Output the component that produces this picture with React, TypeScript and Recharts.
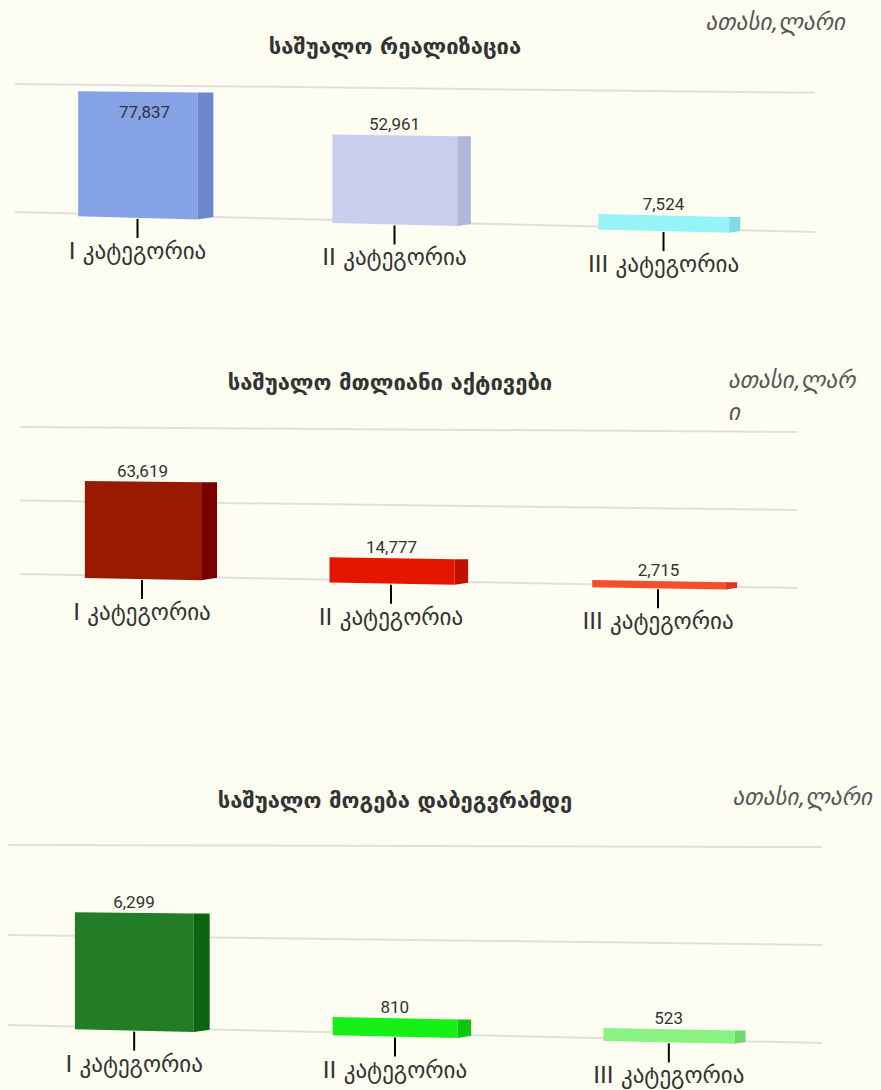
import React from "react";
import { Bar, BarChart, CartesianGrid, Cell, XAxis, YAxis } from "recharts";

const categories = ["I კატეგორია", "II კატეგორია", "III კატეგორია"];

const realizationValues = [77837, 52961, 7524];
const assetValues = [63619, 14777, 2715];
const profitValues = [6299, 810, 523];

const realizationTicks = [0, 82000];
const assetTicks = [0, 50000, 100000];
const profitTicks = [0, 5000, 10000];

const unitLabel = "ათასი,ლარი";

type Panel = {
  title: string;
  values: number[];
  ticks: number[];
  front: string[];
  side: string[];
  top: number;
  height: number;
  titleX: number;
  titleY: number;
  unitRight: number;
  unitY: number;
  unitWrap: boolean;
  plotTop: number;
  plotBottom: number;
  bandLeft: number;
  bandWidth: number;
  gridLeft: number;
  gridRight: number;
  slope: number;
  horizon: number;
  bow: number;
};

const panels: Panel[] = [
  {
    title: "საშუალო რეალიზაცია",
    values: realizationValues,
    ticks: realizationTicks,
    front: ["#86a2e6", "#c8cfee", "#96f4f6"],
    side: ["#6b88cf", "#b0b6d8", "#7fdbdd"],
    top: 0,
    height: 300,
    titleX: 395,
    titleY: 47,
    unitRight: 845,
    unitY: 22,
    unitWrap: false,
    plotTop: 84,
    plotBottom: 212,
    bandLeft: 0,
    bandWidth: 789,
    gridLeft: 15,
    gridRight: 815,
    slope: 0.025,
    horizon: -16,
    bow: 6,
  },
  {
    title: "საშუალო მთლიანი აქტივები",
    values: assetValues,
    ticks: assetTicks,
    front: ["#9a1a00", "#e41600", "#f44e2e"],
    side: ["#780000", "#c01000", "#d8381e"],
    top: 340,
    height: 320,
    titleX: 390,
    titleY: 43,
    unitRight: 862,
    unitY: 40,
    unitWrap: true,
    plotTop: 87,
    plotBottom: 234,
    bandLeft: 4,
    bandWidth: 774,
    gridLeft: 20,
    gridRight: 797,
    slope: 0.018,
    horizon: 6,
    bow: 9,
  },
  {
    title: "საშუალო მოგება დაბეგვრამდე",
    values: profitValues,
    ticks: profitTicks,
    front: ["#237c26", "#16f016", "#8af282"],
    side: ["#0a6410", "#10c410", "#6fd86a"],
    top: 760,
    height: 330,
    titleX: 395,
    titleY: 41,
    unitRight: 872,
    unitY: 37,
    unitWrap: false,
    plotTop: 85,
    plotBottom: 265,
    bandLeft: -6,
    bandWidth: 802,
    gridLeft: 8,
    gridRight: 822,
    slope: 0.022,
    horizon: 62,
    bow: 6.5,
  },
];

const LIFT = 3;
const AXIS_H = 30;

// fake perspective: tilt rows toward the right, bow the outer columns
const tiltY = (p: Panel, x: number, y: number) =>
  y + ((x - p.gridLeft) * p.slope * (y - p.horizon)) / (p.plotBottom - p.horizon);

const project = (p: Panel, x: number, y: number): [number, number] => {
  const mid = p.bandLeft + p.bandWidth / 2;
  const step = p.bandWidth / 3;
  return [x + p.bow * ((x - mid) / step) ** 2, tiltY(p, x, y)];
};

const fmt = (v: number) => v.toLocaleString("en-US");

const PanelChart = ({ p }: { p: Panel }) => {
  const data = categories.map((name, i) => ({ name, value: p.values[i] }));

  const renderBar = (props: any) => {
    const { x, y, width, height, index, payload } = props;
    const yb = y + height;
    const [ax, ay] = project(p, x, y);
    const [bx, by] = project(p, x + width, y);
    const [cx, cy0] = project(p, x + width, yb);
    const [dx, dy0] = project(p, x, yb);
    const cy = cy0 + LIFT;
    const dy = dy0 + LIFT;
    const depth = 17.5 - 0.009 * (bx - p.gridLeft);
    const front = `${ax},${ay} ${bx},${by} ${cx},${cy} ${dx},${dy}`;
    const side = `${bx},${by} ${bx + depth},${by} ${cx + depth},${cy - 0.15 * depth} ${cx},${cy}`;
    const [lx, ly] = project(p, x + width / 2, y);
    const inside = y - 20 < p.plotTop;
    return (
      <g>
        <polygon points={front} fill={p.front[index]} />
        <polygon points={side} fill={p.side[index]} />
        <text
          x={inside ? lx + 7 : lx}
          y={inside ? ly + 26 : ly - 5}
          textAnchor="middle"
          fontFamily="Roboto, sans-serif"
          fontSize={17}
          fill="#333"
        >
          {fmt(payload.value)}
        </text>
      </g>
    );
  };

  const renderTick = (props: any) => {
    const { x, payload } = props;
    const [tx, ty0] = project(p, x, p.plotBottom);
    const ty = ty0 + LIFT + 1;
    return (
      <g>
        <line x1={tx} y1={ty} x2={tx} y2={ty + 19} stroke="#000" strokeWidth={2} />
        <text
          x={tx}
          y={ty + 40}
          textAnchor="middle"
          fontFamily="'DejaVu Sans', sans-serif"
          fontSize={23}
          fill="#333"
        >
          {payload.value}
        </text>
      </g>
    );
  };

  const renderGrid = (props: any) => (
    <line
      key={props.key}
      x1={p.gridLeft}
      y1={tiltY(p, p.gridLeft, props.y1)}
      x2={p.gridRight}
      y2={tiltY(p, p.gridRight, props.y1)}
      stroke="#e0e0e0"
      strokeWidth={2}
    />
  );

  return (
    <div style={{ position: "absolute", left: 0, top: p.top, width: 881, height: p.height }}>
      <div
        style={{
          position: "absolute",
          left: p.titleX - 300,
          width: 600,
          top: p.titleY - 15,
          textAlign: "center",
          fontFamily: "'DejaVu Sans', sans-serif",
          fontWeight: "bold",
          fontSize: 22,
          lineHeight: "30px",
          color: "#333",
        }}
      >
        {p.title}
      </div>
      <div
        style={{
          position: "absolute",
          right: 881 - p.unitRight,
          top: p.unitY - 16,
          width: p.unitWrap ? 134 : undefined,
          fontFamily: "'DejaVu Sans', sans-serif",
          fontStyle: "italic",
          fontSize: 23,
          lineHeight: "32px",
          color: "#555",
        }}
      >
        {p.unitWrap ? (
          <>
            <span>{unitLabel.slice(0, -1)}</span>
            <br />
            <span>{unitLabel.slice(-1)}</span>
          </>
        ) : (
          unitLabel
        )}
      </div>
      <div style={{ position: "absolute", left: 0, top: 0 }}>
        <BarChart
          width={881}
          height={p.height}
          data={data}
          barSize={125}
          margin={{
            top: p.plotTop,
            bottom: p.height - p.plotBottom - AXIS_H,
            left: p.bandLeft,
            right: 881 - p.bandLeft - p.bandWidth,
          }}
        >
          <CartesianGrid vertical={false} horizontal={renderGrid} />
          <XAxis
            dataKey="name"
            axisLine={false}
            tickLine={false}
            interval={0}
            height={AXIS_H}
            tick={renderTick}
          />
          <YAxis hide domain={[0, p.ticks[p.ticks.length - 1]]} ticks={p.ticks} />
          <Bar dataKey="value" shape={renderBar} isAnimationActive={false}>
            {data.map((d, i) => (
              <Cell key={d.name} fill={p.front[i]} />
            ))}
          </Bar>
        </BarChart>
      </div>
    </div>
  );
}

export default function App() {
  return (
    <div
      style={{
        position: "absolute",
        left: 0,
        top: 0,
        width: 881,
        height: 1090,
        background: "#fdfdf1",
        overflow: "hidden",
      }}
    >
      {panels.map((p) => (
        <PanelChart key={p.title} p={p} />
      ))}
    </div>
  );
}
